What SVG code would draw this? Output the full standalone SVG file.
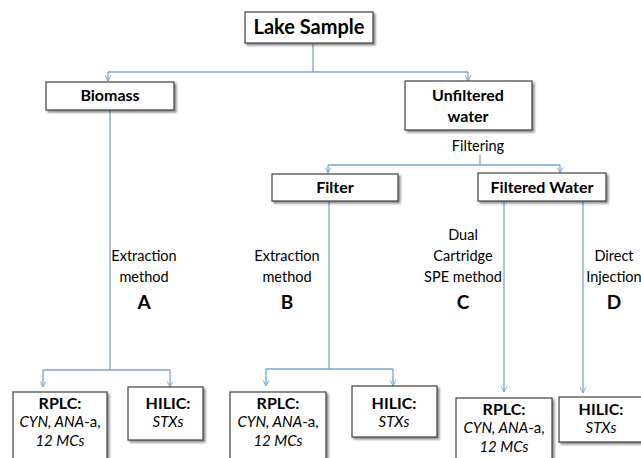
<svg xmlns="http://www.w3.org/2000/svg" width="641" height="458" viewBox="0 0 641 458">
  <style>
    .box { fill: #ffffff; stroke: #3f3f3f; stroke-width: 1.2; filter: url(#shadow); }
    .link { fill: none; stroke: #7ba4d6; stroke-width: 1.3; }
    .arrow { fill: none; stroke: #7ba4d6; stroke-width: 1.3; marker-end: url(#open); }
    text { font-family: Lato, "Liberation Sans", sans-serif; fill: #000000; text-anchor: middle; }
    .title { font-size: 20px; font-weight: bold; }
    .head { font-size: 16px; font-weight: bold; }
    .lab { font-size: 14.5px; }
    .letter { font-size: 19px; font-weight: bold; }
    .it { font-size: 15px; font-style: italic; }
    .up { font-style: normal; }
  </style>
  <defs>
    <filter id="shadow" x="-10%" y="-10%" width="130%" height="140%">
      <feDropShadow dx="2" dy="2" stdDeviation="1" flood-color="#000000" flood-opacity="0.45"/>
    </filter>
    <marker id="open" viewBox="0 0 10 10" refX="9" refY="5" markerWidth="7" markerHeight="7" markerUnits="userSpaceOnUse" orient="auto">
      <path d="M1,1 L9,5 L1,9" fill="none" stroke="#7ba4d6" stroke-width="1.4"/>
    </marker>
  </defs>

  <!-- connectors -->
  <g id="connectors">
    <path class="link" d="M313,44 V72 M108,72 H468"/>
    <path class="arrow" d="M108,72 V81"/>
    <path class="arrow" d="M468,72 V81"/>

    <path class="link" d="M110,110 V370 M43,370 H170"/>
    <path class="arrow" d="M43,370 V387"/>
    <path class="arrow" d="M170,370 V387"/>

    <path class="link" d="M480,155 V165 M328,165 H560"/>
    <path class="arrow" d="M328,165 V173"/>
    <path class="arrow" d="M560,165 V173"/>

    <path class="link" d="M329,201 V369 M266,369 H393"/>
    <path class="arrow" d="M266,369 V386"/>
    <path class="arrow" d="M393,369 V386"/>

    <path class="arrow" d="M504,201 V392"/>
    <path class="arrow" d="M583,201 V393"/>
  </g>

  <!-- tree nodes -->
  <g id="lake-sample">
    <rect class="box" x="245" y="12" width="128" height="31"/>
    <text class="title" x="309" y="34">Lake Sample</text>
  </g>
  <g id="biomass">
    <rect class="box" x="46" y="82" width="128" height="28"/>
    <text class="head" x="110" y="101">Biomass</text>
  </g>
  <g id="unfiltered-water">
    <rect class="box" x="405" y="81" width="127" height="49"/>
    <text class="head" x="468" y="101">Unfiltered</text>
    <text class="head" x="468" y="122">water</text>
  </g>
  <g id="filtering-label">
    <text class="lab" x="478" y="151">Filtering</text>
  </g>
  <g id="filter">
    <rect class="box" x="272" y="174" width="126" height="27"/>
    <text class="head" x="335" y="193">Filter</text>
  </g>
  <g id="filtered-water">
    <rect class="box" x="478" y="173" width="128" height="28"/>
    <text class="head" x="542" y="193">Filtered Water</text>
  </g>

  <!-- method labels -->
  <g id="method-a">
    <text class="lab" x="144" y="261">Extraction</text>
    <text class="lab" x="144" y="282">method</text>
    <text class="letter" x="144" y="309">A</text>
  </g>
  <g id="method-b">
    <text class="lab" x="287" y="261">Extraction</text>
    <text class="lab" x="287" y="282">method</text>
    <text class="letter" x="287" y="309">B</text>
  </g>
  <g id="method-c">
    <text class="lab" x="463" y="240">Dual</text>
    <text class="lab" x="463" y="261">Cartridge</text>
    <text class="lab" x="463" y="282">SPE method</text>
    <text class="letter" x="463" y="309">C</text>
  </g>
  <g id="method-d">
    <text class="lab" x="614" y="261">Direct</text>
    <text class="lab" x="614" y="282">Injection</text>
    <text class="letter" x="614" y="309">D</text>
  </g>

  <!-- analysis nodes -->
  <g id="rplc-a">
    <rect class="box" x="13" y="392" width="94" height="72"/>
    <text class="head" x="60" y="409">RPLC:</text>
    <text class="it" x="60" y="427">CYN, ANA<tspan class="up">-a,</tspan></text>
    <text class="it" x="60" y="446">12 MCs</text>
  </g>
  <g id="hilic-a">
    <rect class="box" x="128" y="387" width="75" height="53"/>
    <text class="head" x="168" y="409">HILIC:</text>
    <text class="it" x="168" y="427">STXs</text>
  </g>
  <g id="rplc-b">
    <rect class="box" x="230" y="392" width="96" height="72"/>
    <text class="head" x="278" y="409">RPLC:</text>
    <text class="it" x="278" y="427">CYN, ANA<tspan class="up">-a,</tspan></text>
    <text class="it" x="278" y="446">12 MCs</text>
  </g>
  <g id="hilic-b">
    <rect class="box" x="352" y="386" width="85" height="51"/>
    <text class="head" x="394" y="409">HILIC:</text>
    <text class="it" x="394" y="427">STXs</text>
  </g>
  <g id="rplc-c">
    <rect class="box" x="456" y="398" width="96" height="72"/>
    <text class="head" x="504" y="415">RPLC:</text>
    <text class="it" x="504" y="433">CYN, ANA<tspan class="up">-a,</tspan></text>
    <text class="it" x="504" y="452">12 MCs</text>
  </g>
  <g id="hilic-d">
    <rect class="box" x="559" y="397" width="90" height="45"/>
    <text class="head" x="601" y="415">HILIC:</text>
    <text class="it" x="601" y="433">STXs</text>
  </g>
</svg>
